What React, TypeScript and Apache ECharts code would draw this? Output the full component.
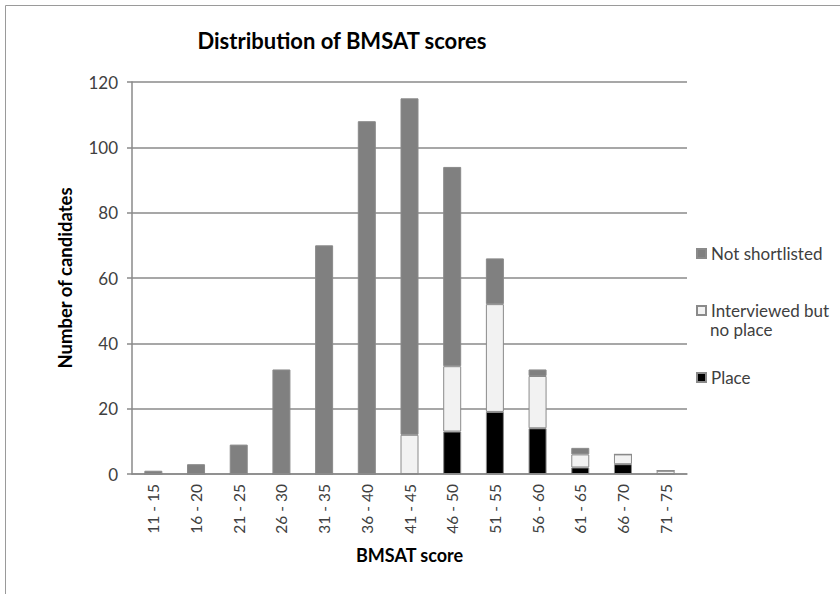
import React, { useEffect, useRef } from "react";
import * as echarts from "echarts";

const categories = ["11 - 15", "16 - 20", "21 - 25", "26 - 30", "31 - 35", "36 - 40", "41 - 45", "46 - 50", "51 - 55", "56 - 60", "61 - 65", "66 - 70", "71 - 75"];
const place = [0, 0, 0, 0, 0, 0, 0, 13, 19, 14, 2, 3, 0];
const interviewed = [0, 0, 0, 0, 0, 0, 12, 20, 33, 16, 4, 3, 1];
const notShortlisted = [1, 3, 9, 32, 70, 108, 103, 61, 14, 2, 2, 0, 0];
const yTicks = [0, 20, 40, 60, 80, 100, 120];

const FONT = "Lato, 'Open Sans', sans-serif";

export default function App() {
  const ref = useRef<HTMLDivElement>(null);
  useEffect(() => {
    document.body.style.margin = "0";
    const chart = echarts.init(ref.current!, null, { renderer: "svg" });
    const border = { borderColor: "#8a8a8a", borderWidth: 1 };
    const mkLegend = (name: string, top: number) => ({
      data: [name],
      left: 696,
      top,
      padding: 0,
      orient: "vertical",
      icon: "rect",
      itemWidth: 9,
      itemHeight: 9,
      itemGap: 4,
      textStyle: { fontFamily: FONT, fontSize: 17, color: "#404040", lineHeight: 19 },
      formatter: (n: string) => (n === "Interviewed but no place" ? "Interviewed but" : n),
    });
    chart.setOption({
      animation: false,
      backgroundColor: "#fff",
      title: {
        text: "Distribution of BMSAT scores",
        left: 337,
        top: 24,
        textAlign: "center",
        textStyle: { fontFamily: FONT, fontSize: 22, fontWeight: "bold", color: "#000" },
      },
      graphic: [
        {
          type: "rect",
          shape: { x: 5.5, y: 5.5, width: 860, height: 620 },
          style: { fill: "none", stroke: "#9a9a9a", lineWidth: 1 },
          silent: true,
        },
        {
          type: "text",
          left: 710,
          top: 321,
          style: { text: "no place", fontFamily: FONT, fontSize: 17, fill: "#404040" },
          silent: true,
        },
      ],
      legend: [
        mkLegend("Not shortlisted", 244),
        mkLegend("Interviewed but no place", 301),
        mkLegend("Place", 368),
      ],
      grid: { left: 132, right: 153, top: 82, bottom: 120 },
      xAxis: {
        type: "category",
        data: categories,
        name: "BMSAT score",
        nameLocation: "middle",
        nameGap: 72,
        nameTextStyle: { fontFamily: FONT, fontSize: 18, fontWeight: "bold", color: "#000" },
        axisLine: { lineStyle: { color: "#8a8a8a", width: 1.5 } },
        axisTick: { show: false },
        axisLabel: {
          rotate: 90,
          interval: 0,
          fontFamily: FONT,
          fontSize: 15.5,
          color: "#404040",
          margin: 10,
        },
      },
      yAxis: {
        type: "value",
        min: 0,
        max: 120,
        interval: 20,
        name: "Number of candidates",
        nameLocation: "middle",
        nameGap: 58,
        nameTextStyle: { fontFamily: FONT, fontSize: 18.5, fontWeight: "bold", color: "#000" },
        axisLine: { show: true, lineStyle: { color: "#8a8a8a", width: 1.5 } },
        axisTick: { show: true, length: 5, lineStyle: { color: "#8a8a8a", width: 1.5 } },
        axisLabel: {
          fontFamily: FONT,
          fontSize: 17,
          color: "#404040",
          margin: 14,
          formatter: (v: number) => (yTicks.includes(v) ? String(v) : ""),
        },
        splitLine: { lineStyle: { color: "#8a8a8a", width: 1.5 } },
      },
      series: [
        {
          name: "Place",
          type: "bar",
          stack: "s",
          data: place,
          barWidth: 18,
          itemStyle: { color: "#000000", ...border },
        },
        {
          name: "Interviewed but no place",
          type: "bar",
          stack: "s",
          data: interviewed,
          barWidth: 18,
          itemStyle: { color: "#f2f2f2", ...border },
        },
        {
          name: "Not shortlisted",
          type: "bar",
          stack: "s",
          data: notShortlisted,
          barWidth: 18,
          itemStyle: { color: "#808080", ...border },
        },
      ],
    });
    return () => chart.dispose();
  }, []);
  return <div ref={ref} style={{ width: 840, height: 594 }} />;
}
